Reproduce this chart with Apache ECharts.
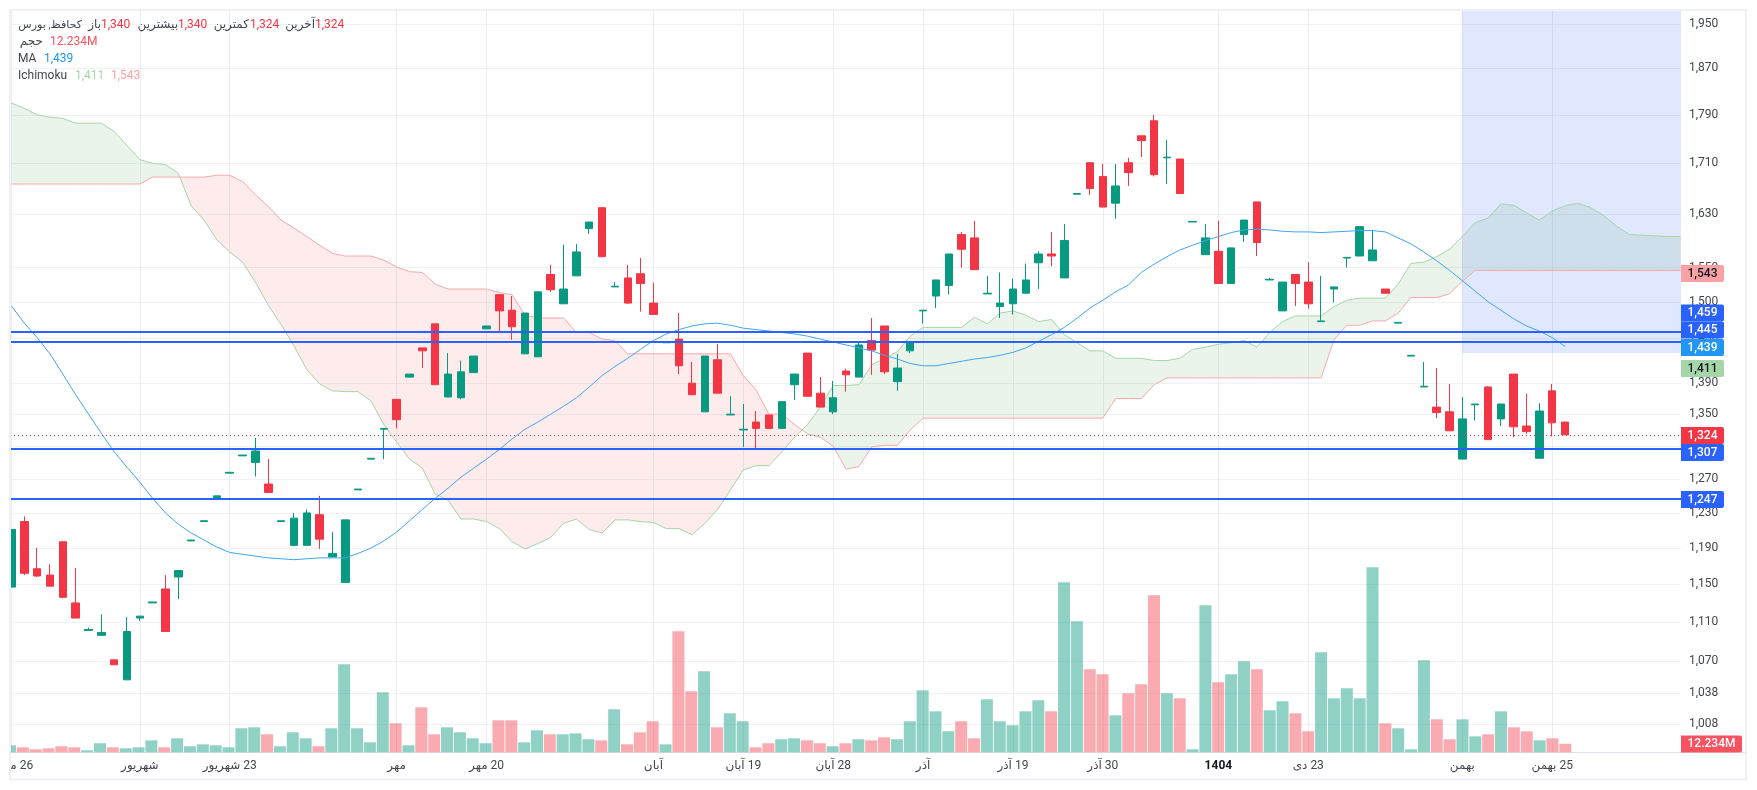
<!DOCTYPE html>
<html lang="fa">
<head>
<meta charset="utf-8">
<title>کحافظ</title>
<script src="https://cdn.jsdelivr.net/npm/echarts@6/dist/echarts.min.js"></script>
<style>
html,body{margin:0;padding:0;background:#fff}
#chart{position:absolute;left:0;top:0;width:1757px;height:790px}
</style>
</head>
<body>
<div id="chart" dir="rtl"></div>
<script>
const timeTickIndex = [0,10,17,30,37,50,57,64,71,78,85,94,101,113,120];
const timeTickLabels = ['26 مرداد','شهریور','23 شهریور','مهر','20 مهر','آبان','19 آبان','28 آبان','آذر','19 آذر','30 آذر','1404','23 دی','بهمن','25 بهمن'];
const priceTicks = [1950,1870,1790,1710,1630,1550,1500,1450,1390,1350,1310,1270,1230,1190,1150,1110,1070,1038,1008];

const opens = [1147,1220,1167,1160,1197,1130,1101,1096,1071,1051,1114,1130,1145,1158,1198,1220,1248,1277,1298,1290,1264,1220,1193,1193,1228,1180,1152,1257,1294,1331,1369,1398,1437,1470,1372,1371,1404,1463,1511,1489,1429,1425,1540,1498,1538,1608,1640,1522,1535,1541,1499,1444,1449,1390,1353,1421,1349,1330,1340,1349,1332,1388,1430,1377,1353,1406,1398,1447,1467,1392,1433,1488,1509,1524,1599,1594,1512,1494,1498,1513,1557,1570,1535,1661,1711,1689,1647,1711,1755,1780,1719,1717,1618,1569,1574,1527,1599,1649,1532,1488,1540,1529,1473,1519,1564,1567,1560,1519,1471,1426,1385,1359,1353,1294,1362,1385,1344,1402,1335,1295,1380,1340];
const closes = [1211,1162,1159,1148,1136,1114,1102,1099,1066,1100,1116,1131,1100,1165,1199,1221,1250,1278,1299,1304,1254,1221,1224,1230,1200,1184,1222,1258,1295,1332,1343,1402,1433,1388,1402,1405,1426,1467,1488,1466,1485,1515,1518,1519,1573,1618,1566,1523,1499,1527,1483,1445,1413,1375,1426,1377,1350,1331,1332,1332,1366,1402,1373,1359,1371,1401,1441,1434,1405,1410,1445,1489,1532,1570,1577,1547,1513,1499,1519,1532,1570,1567,1590,1662,1670,1641,1674,1695,1747,1692,1720,1662,1619,1594,1527,1579,1621,1587,1533,1529,1527,1498,1474,1522,1565,1611,1576,1513,1472,1427,1386,1352,1329,1344,1363,1318,1363,1334,1328,1354,1339,1324];
const lows = [1147,1160,1158,1148,1135,1114,1101,1096,1066,1051,1111,1130,1100,1134,1198,1220,1248,1277,1298,1273,1254,1220,1193,1193,1189,1180,1152,1257,1294,1294,1332,1398,1410,1388,1372,1369,1404,1463,1460,1448,1429,1425,1515,1498,1538,1600,1566,1522,1498,1487,1483,1444,1402,1375,1353,1377,1349,1309,1306,1332,1332,1368,1373,1359,1350,1379,1398,1401,1402,1380,1430,1470,1492,1511,1550,1547,1512,1478,1483,1513,1519,1552,1535,1661,1660,1641,1623,1674,1720,1689,1677,1662,1618,1569,1527,1527,1588,1567,1532,1488,1495,1491,1473,1500,1550,1567,1560,1513,1471,1426,1385,1345,1329,1294,1342,1318,1335,1321,1325,1295,1322,1324];
const highs = [1211,1226,1190,1172,1197,1168,1104,1118,1071,1115,1116,1131,1160,1165,1199,1221,1250,1278,1299,1320,1294,1221,1230,1234,1250,1208,1222,1258,1295,1332,1369,1402,1437,1470,1430,1420,1426,1467,1511,1509,1485,1515,1554,1584,1585,1618,1640,1529,1554,1564,1528,1445,1485,1418,1426,1442,1373,1363,1354,1349,1366,1402,1430,1398,1393,1409,1445,1478,1467,1429,1445,1489,1532,1570,1603,1620,1538,1543,1534,1556,1574,1603,1615,1662,1711,1709,1709,1719,1755,1790,1748,1717,1619,1615,1620,1579,1621,1649,1535,1529,1540,1558,1538,1522,1565,1611,1606,1519,1472,1427,1418,1410,1389,1372,1363,1386,1363,1402,1376,1364,1389,1340];
const volumes = [10,7.1,4.3,5.7,8.6,7.1,2.9,12.9,7.1,5.7,7.1,17.1,7.1,20,8.6,11.4,10,7.1,34.3,35.7,25.7,8.6,28.6,20,8.6,34.3,125.7,34.3,14.3,85.7,41.4,10,64.3,25.7,35.7,28.6,20,12.9,45.7,45.7,14.3,31.4,25.7,25.7,27.1,18.6,17.1,61.4,11.4,28.6,44.3,11.4,172.8,87.1,115.7,35.7,55.7,44.3,7.1,12.9,18.6,20,17.1,12.9,8.6,12.9,18.6,17.1,21.4,18.6,44.3,88.5,58.5,30,44.3,20,75.7,44.3,38.6,58.5,74.3,58.5,242.8,187,118.5,111.4,52.8,84.3,97.1,224.2,84.3,77.1,4.3,210,100,111.4,130,118.5,60,72.8,55.7,30,142.8,77.1,91.4,77.1,264.2,41.4,34.3,4.3,131.4,47.1,18.6,47.1,22.8,25.7,58.5,35.7,30,17.1,20,12.234];
const maValues = [1495,1471,1451,1429,1402,1375,1350,1326,1303,1284,1266,1247,1230,1217,1207,1199,1191,1185,1183,1181,1179,1178,1177,1178,1179,1179,1179,1184,1190,1198,1208,1221,1234,1247,1259,1272,1283,1294,1306,1319,1331,1340,1350,1360,1371,1385,1400,1412,1423,1435,1447,1456,1462,1467,1470,1471,1468,1464,1462,1460,1458,1456,1453,1449,1445,1441,1437,1433,1427,1422,1416,1413,1413,1416,1419,1422,1424,1427,1431,1437,1446,1455,1465,1478,1492,1503,1515,1525,1543,1555,1566,1576,1583,1590,1596,1602,1606,1607,1606,1604,1603,1603,1602,1603,1604,1605,1605,1603,1594,1585,1573,1560,1546,1531,1516,1501,1489,1477,1467,1460,1451,1439];
const spanA = [1810,1801,1790,1786,1784,1776,1776,1776,1762,1739,1716,1710,1708,1694,1643,1621,1591,1573,1558,1529,1496,1469,1440,1408,1389,1380,1379,1379,1367,1337,1315,1294,1283,1252,1245,1223,1223,1220,1212,1197,1189,1195,1202,1218,1223,1211,1207,1222,1222,1220,1219,1212,1212,1205,1218,1234,1257,1281,1286,1286,1303,1321,1337,1359,1387,1387,1388,1414,1423,1432,1453,1465,1465,1465,1465,1479,1470,1485,1488,1482,1473,1476,1455,1444,1433,1433,1423,1423,1423,1420,1420,1423,1435,1438,1442,1444,1447,1438,1458,1473,1481,1481,1481,1494,1503,1506,1506,1506,1526,1556,1558,1566,1577,1596,1617,1624,1646,1644,1632,1621,1635,1643,1647,1640,1628,1612,1599,1598,1597,1596,1596];
const spanB = [1677,1677,1677,1677,1677,1677,1677,1677,1677,1677,1677,1688,1688,1688,1688,1688,1691,1691,1681,1660,1642,1621,1609,1596,1583,1571,1567,1567,1567,1561,1551,1544,1543,1526,1519,1519,1519,1519,1514,1511,1482,1478,1478,1478,1458,1458,1449,1447,1429,1429,1429,1429,1429,1429,1429,1429,1429,1400,1381,1350,1350,1337,1325,1321,1310,1282,1285,1309,1311,1311,1330,1345,1345,1345,1345,1345,1345,1345,1345,1345,1345,1345,1345,1345,1345,1345,1370,1370,1370,1388,1397,1397,1397,1397,1397,1397,1397,1397,1397,1397,1397,1397,1397,1448,1468,1468,1474,1474,1485,1507,1507,1507,1512,1530,1546,1546,1546,1546,1546,1546,1546,1546,1546,1546,1546,1546,1546,1546,1546,1546,1546];
const levelPrices = [1459,1445,1307,1247];
const lastPrice = 1324;
const selectionFromIndex = 113;
const selectionLowPrice = 1430;

const xMin = -0.114, xMax = 130.03;
const yMin = 981.6, yMax = 1975.9;
const UP = '#089981', DOWN = '#f23645';
const FONT = 'Roboto, "DejaVu Sans", sans-serif';

const fmt = v => Number(v).toLocaleString('en-US');
const candleData = opens.map((o,i) => [i, o, closes[i], lows[i], highs[i]]);
const volumeData = volumes.map((v,i) => ({
  value:v,
  itemStyle:{color: closes[i] >= opens[i] ? 'rgba(8,153,129,0.45)' : 'rgba(242,54,69,0.42)'}
}));

// cloud runs: contiguous stretches where one leading span stays on top
const cloudRuns = [];
(function(){
  let run = null;
  for (let i = 0; i < spanA.length; i++) {
    const up = spanA[i] >= spanB[i];
    if (!run || run.up !== up) {
      let cross = null;
      if (run) {
        const d0 = Math.log(spanA[i-1]/spanB[i-1]), d1 = Math.log(spanA[i]/spanB[i]);
        const t = d0/(d0-d1);
        const p = Math.exp(Math.log(spanA[i-1]) + t*(Math.log(spanA[i])-Math.log(spanA[i-1])));
        cross = [i-1+t, p];
        run.end = cross;
        cloudRuns.push(run);
      }
      run = {up, from:i, to:i, start:cross, end:null};
    } else run.to = i;
  }
  cloudRuns.push(run);
})();

function renderCloud(params, api){
  const r = cloudRuns[params.dataIndex];
  const pts = [];
  if (r.start) pts.push(api.coord(r.start));
  for (let i = r.from; i <= r.to; i++) pts.push(api.coord([i, spanA[i]]));
  if (r.end) pts.push(api.coord(r.end));
  for (let i = r.to; i >= r.from; i--) pts.push(api.coord([i, spanB[i]]));
  return {type:'polygon', shape:{points:pts}, silent:true,
    style:{fill: r.up ? 'rgba(76,160,80,0.115)' : 'rgba(242,54,69,0.10)'}};
}

const TXT = '#434651';
const legendRows = [
  {t:'کحافظ, بورس', x:82, y:25, c:TXT, a:'right', s:11},
  {t:'باز', x:101, y:25, c:TXT, a:'right'},
  {t:'1,340', x:101, y:25, c:DOWN, a:'left'},
  {t:'بیشترین', x:178, y:25, c:TXT, a:'right'},
  {t:'1,340', x:178, y:25, c:DOWN, a:'left'},
  {t:'کمترین', x:249, y:25, c:TXT, a:'right'},
  {t:'1,324', x:250, y:25, c:DOWN, a:'left'},
  {t:'آخرین', x:315, y:25, c:TXT, a:'right'},
  {t:'1,324', x:315, y:25, c:DOWN, a:'left'},
  {t:'حجم', x:43, y:42, c:TXT, a:'right'},
  {t:'12.234M', x:50, y:42, c:'#f7525f', a:'left'},
  {t:'MA', x:18, y:59, c:TXT, a:'left'},
  {t:'1,439', x:44, y:59, c:'#2196f3', a:'left'},
  {t:'Ichimoku', x:18, y:76, c:TXT, a:'left'},
  {t:'1,411', x:75, y:76, c:'#a5d6a7', a:'left'},
  {t:'1,543', x:111, y:76, c:'#faa1a4', a:'left'}
];
const tags = [
  {t:'1,543', y:273.5, bg:'#faa1a4', c:'#131722'},
  {t:'1,459', y:313,   bg:'#2962ff', c:'#fff'},
  {t:'1,445', y:330,   bg:'#2962ff', c:'#fff'},
  {t:'1,439', y:347.5, bg:'#2196f3', c:'#fff'},
  {t:'1,411', y:368.5, bg:'#a5d6a7', c:'#131722'},
  {t:'1,324', y:435.5, bg:'#f23645', c:'#fff'},
  {t:'1,307', y:452.5, bg:'#2962ff', c:'#fff'},
  {t:'1,247', y:499.5, bg:'#2962ff', c:'#fff'},
  {t:'12.234M', y:744, bg:'#f7525f', c:'#fff', w:61}
];

const graphics = [
  {type:'rect', z:50, silent:true, shape:{x:0,y:0,width:10,height:790}, style:{fill:'#fff'}},
  {type:'rect', z:51, silent:true, shape:{x:1681,y:752,width:65,height:1}, style:{fill:'#e0e3eb'}},
  {type:'rect', z:52, silent:true, shape:{x:10,y:10,width:1736,height:769.5}, style:{fill:'none',stroke:'#eff1f6',lineWidth:2}}
];
legendRows.forEach(r => graphics.push({type:'text', z:60, silent:true,
  style:{text:r.t, x:r.x, y:r.y, fill:r.c, font:(r.s||12)+'px '+FONT, textAlign:r.a, textVerticalAlign:'middle', align:r.a, verticalAlign:'middle'}}));
tags.forEach(g => {
  const w = g.w || 43;
  graphics.push({type:'rect', z:70, silent:true, shape:{x:1681,y:g.y-8.5,width:w,height:17,r:[0,2,2,0]}, style:{fill:g.bg}});
  graphics.push({type:'text', z:71, silent:true,
    style:{text:g.t, x:1681+ (g.w ? w/2 : 21.5), y:g.y, fill:g.c, font:'500 12px '+FONT, textAlign:'center', textVerticalAlign:'middle', align:'center', verticalAlign:'middle'}});
});

const chart = echarts.init(document.getElementById('chart'), null, {renderer:'canvas', width:1757, height:790});
chart.setOption({
  animation:false,
  backgroundColor:'#fff',
  textStyle:{fontFamily:FONT},
  grid:{left:10, right:76, top:10, bottom:37.7, containLabel:false, outerBoundsMode:'none'},
  xAxis:[
    {
      type:'value', min:xMin, max:xMax, scale:true,
      axisLine:{show:true, onZero:false, lineStyle:{color:'#e0e3eb', width:1}},
      axisTick:{show:false, customValues:timeTickIndex},
      splitLine:{show:true, lineStyle:{color:'#eceef1', width:1}},
      axisLabel:{
        customValues:timeTickIndex, margin:8, color:TXT, fontSize:12, fontFamily:FONT, hideOverlap:false,
        formatter:v => {
          const s = timeTickLabels[timeTickIndex.indexOf(v)] || '';
          return s === '1404' ? '{b|1404}' : s;
        },
        rich:{b:{fontWeight:'bold', color:'#131722', fontSize:12, fontFamily:FONT}}
      }
    },
    {type:'category', show:false, boundaryGap:false, data:spanA.map((_,i)=>i), splitLine:{show:false}}
  ],
  yAxis:[
    {
      type:'log', logBase:10, min:yMin, max:yMax, position:'right', scale:true,
      axisLine:{show:false},
      axisTick:{show:false, customValues:priceTicks},
      splitLine:{show:true, lineStyle:{color:'#f0f1f4', width:1}},
      axisLabel:{customValues:priceTicks, color:TXT, fontSize:12, fontFamily:FONT, margin:8, align:'left', padding:[2,0,0,0], formatter:v => fmt(v)}
    },
    {type:'value', min:0, max:1060, show:false, splitLine:{show:false}}
  ],
  graphic:graphics,
  series:[
    {
      type:'bar', name:'حجم', xAxisIndex:1, yAxisIndex:1, data:volumeData, barWidth:12, z:1, silent:true
    },
    {
      type:'custom', name:'cloud', xAxisIndex:0, yAxisIndex:0, data:cloudRuns.map((r,i)=>[i]),
      renderItem:renderCloud, silent:true, z:2, clip:true, encode:{x:[],y:[]}
    },
    {
      type:'line', name:'Span A', data:spanA.map((v,i)=>[i,v]), symbol:'none', silent:true, z:3,
      lineStyle:{color:'#a5d6a7', width:1}
    },
    {
      type:'line', name:'Span B', data:spanB.map((v,i)=>[i,v]), symbol:'none', silent:true, z:3,
      lineStyle:{color:'#f7a9ab', width:1}
    },
    {
      type:'candlestick', name:'کحافظ', data:candleData, barWidth:8, z:4, silent:true,
      encode:{x:0, y:[1,2,3,4]},
      itemStyle:{color:UP, color0:DOWN, borderColor:UP, borderColor0:DOWN, borderWidth:1}
    },
    {
      type:'line', name:'MA', data:maValues.map((v,i)=>[i,v]), symbol:'none', silent:true, z:5,
      lineStyle:{color:'#42a5f5', width:1},
      markArea:{
        silent:true,
        itemStyle:{color:'rgba(41,98,255,0.15)'},
        data:[[{coord:[selectionFromIndex, yMax]},{coord:[xMax, selectionLowPrice]}]]
      },
      markLine:{
        silent:true, symbol:'none', z:6, animation:false,
        label:{show:false},
        data:levelPrices.map(p => ({yAxis:p, lineStyle:{color:'#2962ff', width:2, type:'solid'}}))
          .concat([{yAxis:lastPrice, lineStyle:{color:DOWN, width:1, type:[1,3]}}])
      }
    }
  ]
});
</script>
</body>
</html>
